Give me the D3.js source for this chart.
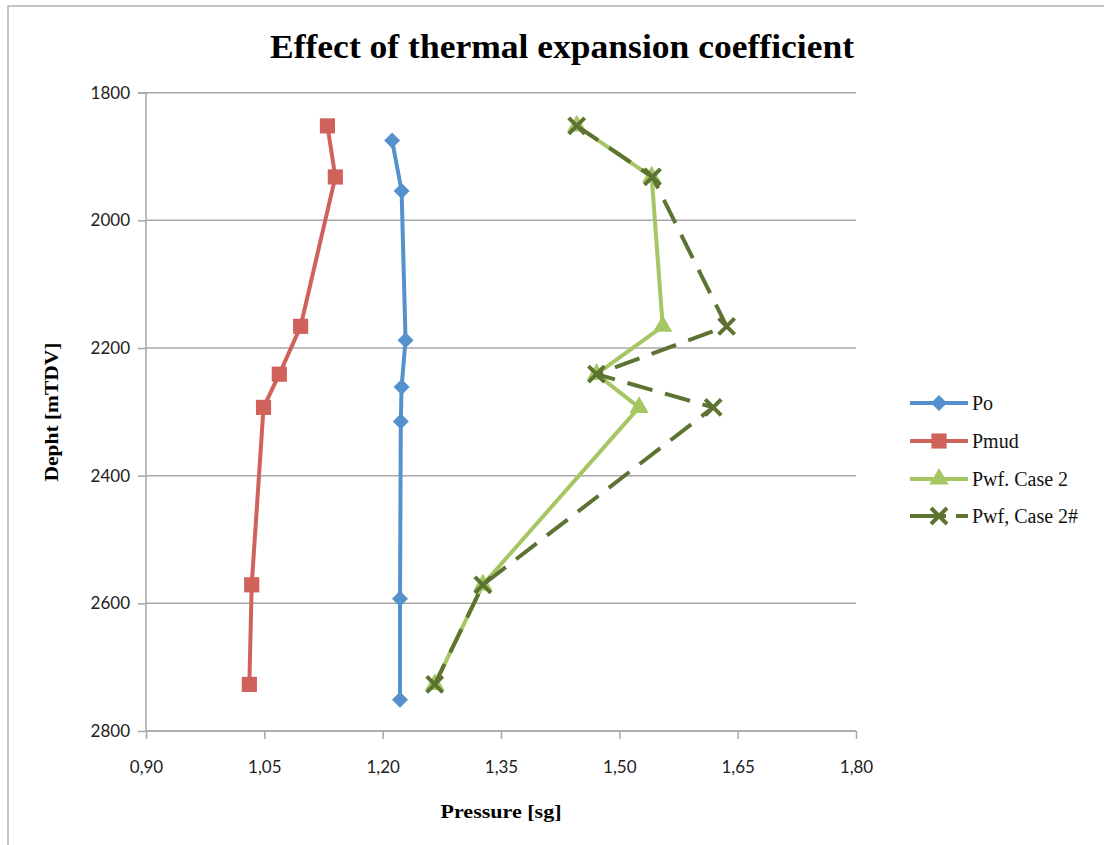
<!DOCTYPE html>
<html><head><meta charset="utf-8">
<script src="https://cdn.jsdelivr.net/npm/d3@7"></script>
<style>body{margin:0;background:#fff;} svg{display:block;}</style>
</head><body>
<svg id="chart" width="1104" height="845"></svg>
<script>
const title = "Effect of thermal expansion coefficient";
const xTitle = "Pressure [sg]";
const yTitle = "Depht [mTDV]";
const xTicks = [0.90, 1.05, 1.20, 1.35, 1.50, 1.65, 1.80];
const yTicks = [1800, 2000, 2200, 2400, 2600, 2800];
const seriesNames = ["Po", "Pmud", "Pwf. Case 2", "Pwf, Case 2#"];
const poDepth = [1875, 1954, 2188, 2261, 2315, 2593, 2751];
const poValue = [1.212, 1.224, 1.229, 1.224, 1.223, 1.222, 1.222];
const mudDepth = [1852, 1932, 2166, 2241, 2293, 2571, 2727];
const mudValue = [1.130, 1.140, 1.096, 1.069, 1.049, 1.034, 1.031];
const pwfDepth = [1852, 1932, 2166, 2241, 2293, 2571, 2727];
const case2Value = [1.446, 1.541, 1.555, 1.471, 1.525, 1.327, 1.266];
const case2hValue = [1.446, 1.542, 1.636, 1.471, 1.619, 1.327, 1.266];

const colors = ["#5591CC", "#CF625A", "#A5C663", "#5C7332"];
const svg = d3.select("#chart");

// outer frame (top + left)
svg.append("path").attr("d","M8,1104 L8,6 L1104,6").attr("fill","none").attr("stroke","#b3b3b3").attr("stroke-width",1.5);

const x = d3.scaleLinear().domain([0.90, 1.80]).range([146, 856]);
const y = d3.scaleLinear().domain([1800, 2800]).range([92.7, 731]);

// gridlines
svg.append("g").selectAll("line").data(yTicks).join("line")
  .attr("x1", x(0.90)).attr("x2", x(1.80))
  .attr("y1", d=>y(d)).attr("y2", d=>y(d))
  .attr("stroke","#a8a8a8").attr("stroke-width",1.5);

const fmt = d => d3.format(".2f")(d).replace(".", ",");

// y axis
const yAxis = svg.append("g").attr("transform",`translate(${x(0.90)},0)`)
  .call(d3.axisLeft(y).tickValues(yTicks).tickSize(8).tickPadding(8).tickFormat(d=>d));
yAxis.select(".domain").attr("stroke","#a8a8a8").attr("stroke-width",1.5).attr("d",`M-8,${y(1800)}H0V${y(2800)}`);
yAxis.selectAll(".tick line").attr("stroke","#a8a8a8").attr("stroke-width",1.5);
yAxis.selectAll(".tick text").attr("font-family","Lato, 'Open Sans', sans-serif").attr("font-size",17).attr("fill","#222");

// x axis
const xAxis = svg.append("g").attr("transform",`translate(0,${y(2800)})`)
  .call(d3.axisBottom(x).tickValues(xTicks).tickSize(8).tickPadding(22).tickFormat(fmt));
xAxis.select(".domain").attr("stroke","#a8a8a8").attr("stroke-width",1.5).attr("d",`M${x(0.9)},0H${x(1.8)}`);
xAxis.selectAll(".tick line").attr("stroke","#a8a8a8").attr("stroke-width",1.5);
xAxis.selectAll(".tick text").attr("font-family","Lato, 'Open Sans', sans-serif").attr("font-size",17).attr("fill","#222");

// titles
svg.append("text").attr("x",562).attr("y",58).attr("text-anchor","middle")
  .attr("font-family","'Liberation Serif', 'Times New Roman', serif").attr("font-weight","bold")
  .attr("font-size",34).attr("textLength",584).attr("lengthAdjust","spacingAndGlyphs").text(title);
svg.append("text").attr("x",501).attr("y",818).attr("text-anchor","middle")
  .attr("font-family","'Liberation Serif', serif").attr("font-weight","bold")
  .attr("font-size",19).attr("textLength",121).attr("lengthAdjust","spacingAndGlyphs").text(xTitle);
svg.append("text").attr("transform","translate(58,412) rotate(-90)").attr("text-anchor","middle")
  .attr("font-family","'Liberation Serif', serif").attr("font-weight","bold")
  .attr("font-size",19).attr("textLength",139).attr("lengthAdjust","spacingAndGlyphs").text(yTitle);

const line = d3.line().x(d=>x(d[0])).y(d=>y(d[1]));
const series = [
  {name:seriesNames[0], vals:d3.zip(poValue, poDepth), color:colors[0], sym:"diamond", size:0, dash:null},
  {name:seriesNames[1], vals:d3.zip(mudValue, mudDepth), color:colors[1], sym:d3.symbolSquare, size:230, dash:null},
  {name:seriesNames[2], vals:d3.zip(case2Value, pwfDepth), color:colors[2], sym:d3.symbolTriangle, size:160, dash:null},
  {name:seriesNames[3], vals:d3.zip(case2hValue, pwfDepth), color:colors[3], sym:"x", size:0, dash:"26,13"}
];

function drawMarker(g, s, cx, cy){
  if(s.sym === "x"){
    const r = 8;
    g.append("path").attr("d",`M${cx-r},${cy-r}L${cx+r},${cy+r}M${cx-r},${cy+r}L${cx+r},${cy-r}`)
      .attr("stroke",s.color).attr("stroke-width",4).attr("fill","none");
  } else if(s.sym === "diamond"){
    const r = 8;
    g.append("path").attr("d",`M${cx},${cy-r}L${cx+r},${cy}L${cx},${cy+r}L${cx-r},${cy}Z`).attr("fill",s.color);
  } else {
    let sym = d3.symbol().type(s.sym).size(s.size);
    g.append("path").attr("d",sym()).attr("transform",`translate(${cx},${cy})`).attr("fill",s.color);
  }
}

series.forEach(s=>{
  const g = svg.append("g");
  g.append("path").datum(s.vals).attr("d",line).attr("fill","none")
    .attr("stroke",s.color).attr("stroke-width",4).attr("stroke-linejoin","round")
    .attr("stroke-dasharray",s.dash);
  s.vals.forEach(v=>drawMarker(g, s, x(v[0]), y(v[1])));
});

// legend
const legY = [403, 441, 479, 516];
series.forEach((s,i)=>{
  const g = svg.append("g");
  g.append("line").attr("x1",910).attr("x2",968).attr("y1",legY[i]).attr("y2",legY[i])
    .attr("stroke",s.color).attr("stroke-width",4).attr("stroke-dasharray",s.dash ? "36,10" : null);
  drawMarker(g, s, 939, legY[i]);
  g.append("text").attr("x",972).attr("y",legY[i]+7).attr("font-family","'Liberation Serif', serif")
    .attr("font-size",20).attr("fill","#111").text(s.name);
});
</script>
</body></html>
